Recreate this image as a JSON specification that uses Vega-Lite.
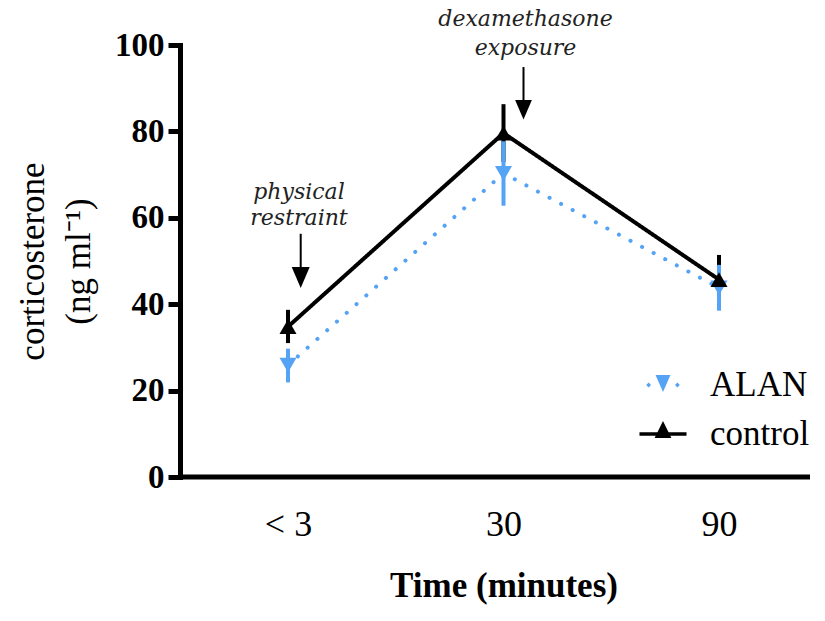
{
  "$schema": "https://vega.github.io/schema/vega-lite/v6.json",
  "width": 630,
  "height": 432,
  "autosize": {"type": "none"},
  "padding": {"left": 180, "top": 45, "right": 15, "bottom": 144},
  "background": "white",
  "config": {
    "view": {"stroke": null},
    "font": "Liberation Serif",
    "axis": {"grid": false, "labelColor": "black", "titleColor": "black", "domainColor": "black", "tickColor": "black", "labelFont": "Liberation Serif", "titleFont": "Liberation Serif"},
    "legend": {"labelFont": "Liberation Serif"},
    "text": {"font": "Liberation Serif"}
  },
  "datasets": {
    "main": [
      {"time": "< 3", "group": "control", "mean": 34.8, "lo": 31.0, "hi": 38.7},
      {"time": "30", "group": "control", "mean": 79.6, "lo": 72.9, "hi": 86.3},
      {"time": "90", "group": "control", "mean": 45.7, "lo": 40.0, "hi": 51.4},
      {"time": "< 3", "group": "ALAN", "mean": 25.9, "lo": 21.9, "hi": 29.7},
      {"time": "30", "group": "ALAN", "mean": 70.3, "lo": 62.8, "hi": 77.7},
      {"time": "90", "group": "ALAN", "mean": 43.8, "lo": 38.5, "hi": 49.1}
    ]
  },
  "layer": [
    {
      "data": {"name": "main"},
      "mark": {"type": "rule", "strokeWidth": 4, "strokeCap": "butt"},
      "encoding": {
        "x": {
          "field": "time", "type": "ordinal",
          "scale": {"type": "point", "domain": ["< 3", "30", "90"], "range": [108, 539], "padding": 0},
          "axis": {
            "title": "Time (minutes)",
            "domain": false, "ticks": false,
            "labelFontSize": 36, "labelFontWeight": "normal", "labelPadding": 30, "labelAngle": 0,
            "titleFontSize": 35, "titleFontWeight": "bold", "titlePadding": 26
          }
        },
        "y": {
          "field": "lo", "type": "quantitative",
          "scale": {"domain": [0, 100], "nice": false, "zero": true},
          "axis": {
            "title": ["corticosterone", "(ng ml⁻¹)"],
            "values": [0, 20, 40, 60, 80, 100],
            "domainWidth": 5, "domainCap": "square", "tickWidth": 5, "tickSize": 12,
            "labelFontSize": 33, "labelFontWeight": "bold", "labelPadding": 4,
            "titleFontSize": 35, "titleFontWeight": "normal", "titlePadding": 18, "titleLineHeight": 46
          }
        },
        "y2": {"field": "hi"},
        "color": {
          "field": "group", "type": "nominal",
          "scale": {"domain": ["ALAN", "control"], "range": ["#55A3F5", "#000000"]},
          "legend": {
            "title": null,
            "orient": "none", "legendX": 459, "legendY": 316,
            "padding": 0, "symbolSize": 2304, "rowPadding": 7,
            "symbolStrokeWidth": 0, "symbolOpacity": 1,
            "labelFont": "Liberation Serif", "labelFontSize": 35, "labelColor": "black",
            "labelOffset": 23, "labelLimit": 300
          }
        }
      }
    },
    {
      "data": {"name": "main"},
      "mark": {"type": "line", "strokeWidth": 4, "strokeCap": "round"},
      "encoding": {
        "x": {"field": "time", "type": "ordinal"},
        "y": {"field": "mean", "type": "quantitative"},
        "color": {"field": "group", "type": "nominal"},
        "strokeDash": {
          "field": "group", "type": "nominal",
          "scale": {"domain": ["ALAN", "control"], "range": [[0.1, 13], [1, 0]]},
          "legend": null
        }
      }
    },
    {
      "data": {"name": "main"},
      "mark": {"type": "point", "filled": true, "opacity": 0, "size": 4},
      "encoding": {
        "x": {"field": "time", "type": "ordinal"},
        "y": {"field": "mean", "type": "quantitative"},
        "shape": {
          "field": "group", "type": "nominal",
          "scale": {"domain": ["ALAN", "control"], "range": [
            "M-0.31,-0.42L0.31,-0.42L0,0.29Z M-0.7,0L-0.6,-0.1L-0.5,0L-0.6,0.1Z M0.5,0L0.6,-0.1L0.7,0L0.6,0.1Z",
            "M-0.98,-0.07L0.98,-0.07L0.98,0.07L-0.98,0.07Z M0,-0.54L0.35,0.17L-0.35,0.17Z"
          ]}
        },
        "color": {"field": "group", "type": "nominal"}
      }
    },
    {
      "data": {"name": "main"},
      "transform": [{"filter": "datum.group === 'ALAN'"}],
      "mark": {"type": "point", "filled": true, "opacity": 1, "size": 290, "shape": "triangle-down"},
      "encoding": {
        "x": {"field": "time", "type": "ordinal"},
        "y": {"field": "mean", "type": "quantitative"},
        "color": {"field": "group", "type": "nominal"}
      }
    },
    {
      "data": {"name": "main"},
      "transform": [{"filter": "datum.group === 'control'"}],
      "mark": {"type": "point", "filled": true, "opacity": 1, "size": 290, "shape": "triangle-up"},
      "encoding": {
        "x": {"field": "time", "type": "ordinal"},
        "y": {"field": "mean", "type": "quantitative"},
        "color": {"field": "group", "type": "nominal"}
      }
    },
    {
      "data": {"values": [{"base": 0}]},
      "mark": {"type": "rule", "strokeWidth": 5, "color": "black"},
      "encoding": {"y": {"field": "base", "type": "quantitative"}}
    },
    {
      "data": {"values": [
        {"time": "< 3", "label": "physical", "v": 64.4},
        {"time": "< 3", "label": "restraint", "v": 58.4}
      ]},
      "mark": {"type": "text", "font": "DejaVu Serif", "fontStyle": "italic", "fontSize": 22, "align": "center", "baseline": "alphabetic", "xOffset": 11, "color": "#222222"},
      "encoding": {
        "x": {"field": "time", "type": "ordinal"},
        "y": {"field": "v", "type": "quantitative"},
        "text": {"field": "label"}
      }
    },
    {
      "data": {"values": [
        {"time": "30", "label": "dexamethasone", "v": 104.4},
        {"time": "30", "label": "exposure", "v": 97.7}
      ]},
      "mark": {"type": "text", "font": "DejaVu Serif", "fontStyle": "italic", "fontSize": 22, "align": "center", "baseline": "alphabetic", "xOffset": 22, "color": "#222222"},
      "encoding": {
        "x": {"field": "time", "type": "ordinal"},
        "y": {"field": "v", "type": "quantitative"},
        "text": {"field": "label"}
      }
    },
    {
      "data": {"values": [{"time": "< 3", "top": 56.3, "bottom": 48.4, "head": 46.2}]},
      "layer": [
        {
          "mark": {"type": "rule", "strokeWidth": 2, "color": "black", "xOffset": 12.7},
          "encoding": {
            "x": {"field": "time", "type": "ordinal"},
            "y": {"field": "top", "type": "quantitative"},
            "y2": {"field": "bottom"}
          }
        },
        {
          "mark": {"type": "point", "filled": true, "opacity": 1, "color": "black", "size": 576, "xOffset": 12.7, "shape": "M-0.75,-0.875L0.75,-0.875L0,0.875Z"},
          "encoding": {
            "x": {"field": "time", "type": "ordinal"},
            "y": {"field": "head", "type": "quantitative"}
          }
        }
      ]
    },
    {
      "data": {"values": [{"time": "30", "top": 94.9, "bottom": 87.0, "head": 85.0}]},
      "layer": [
        {
          "mark": {"type": "rule", "strokeWidth": 2, "color": "black", "xOffset": 20},
          "encoding": {
            "x": {"field": "time", "type": "ordinal"},
            "y": {"field": "top", "type": "quantitative"},
            "y2": {"field": "bottom"}
          }
        },
        {
          "mark": {"type": "point", "filled": true, "opacity": 1, "color": "black", "size": 500, "xOffset": 20, "shape": "M-0.75,-0.875L0.75,-0.875L0,0.875Z"},
          "encoding": {
            "x": {"field": "time", "type": "ordinal"},
            "y": {"field": "head", "type": "quantitative"}
          }
        }
      ]
    }
  ]
}
